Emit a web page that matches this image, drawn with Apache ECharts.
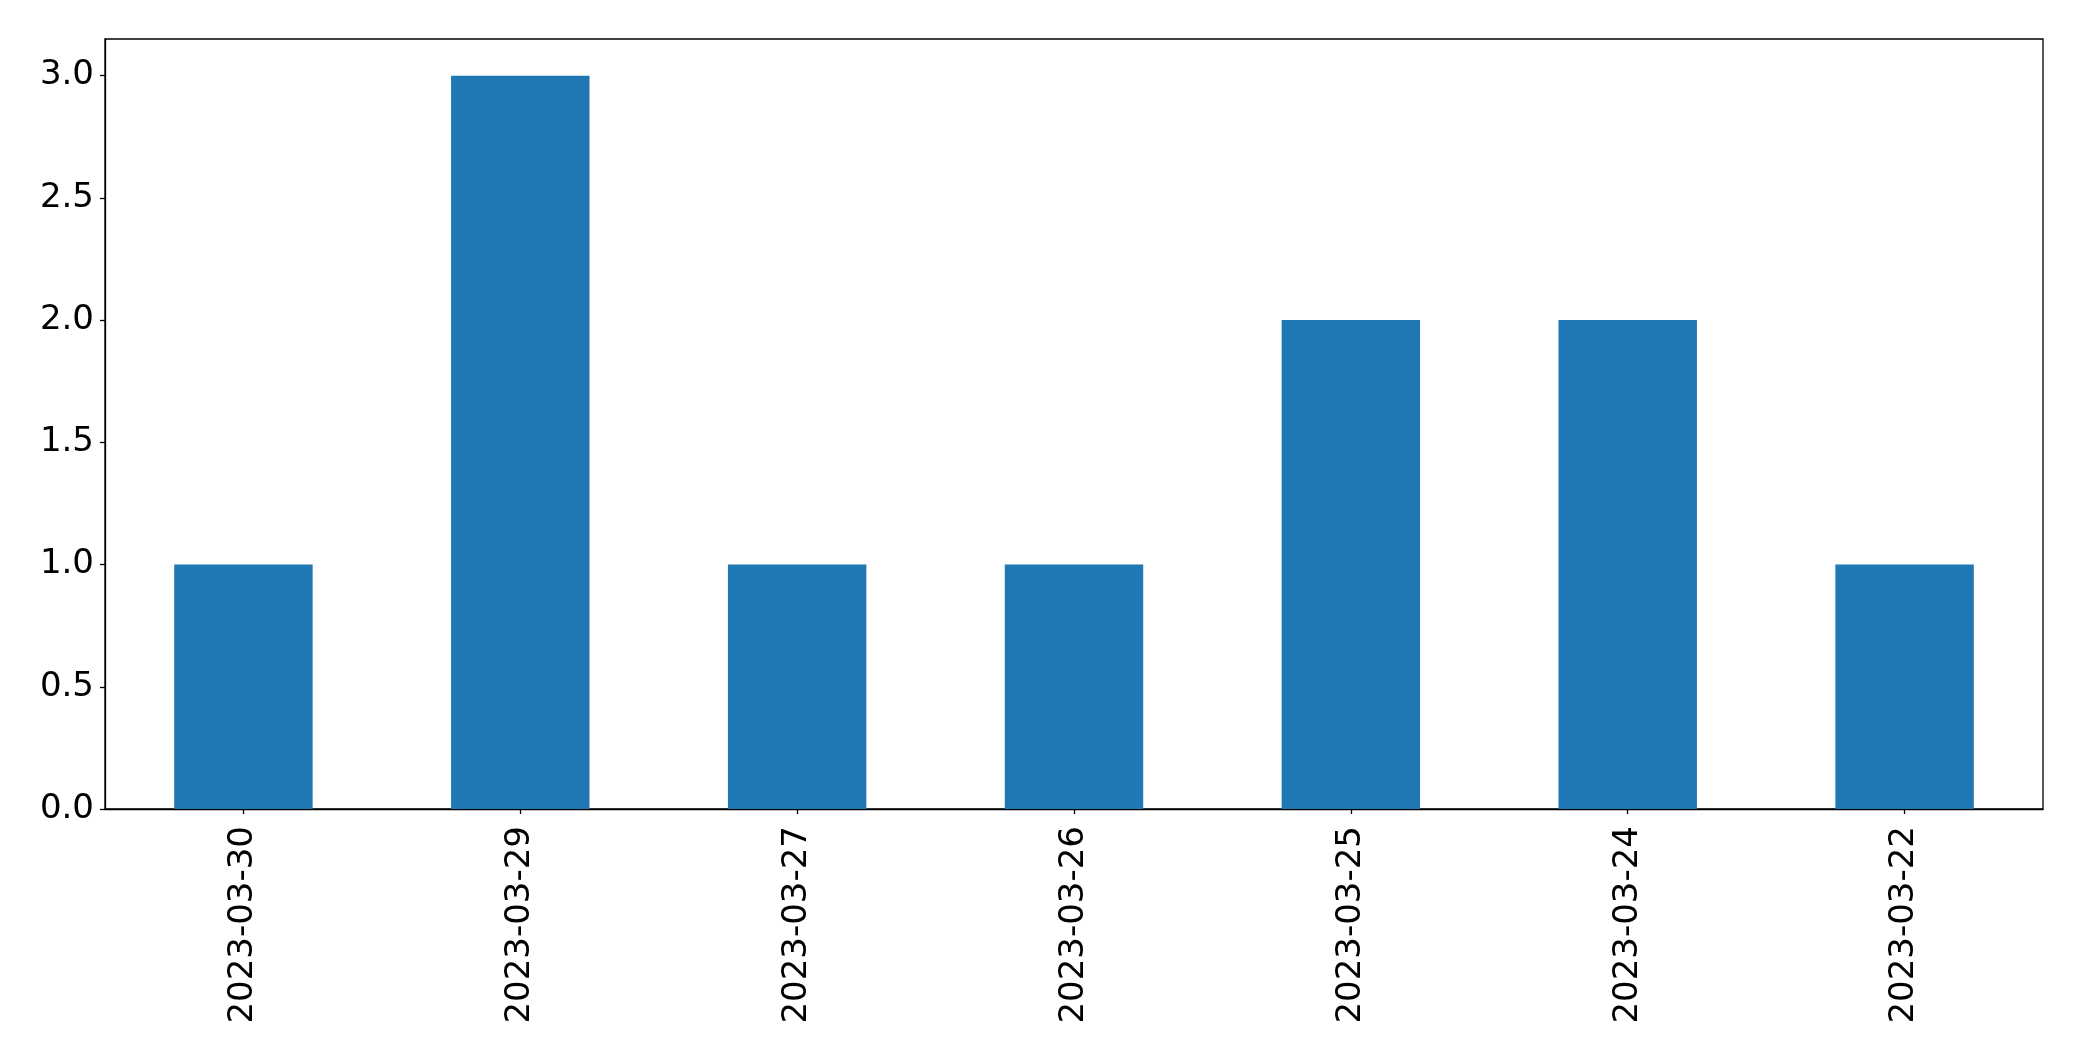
<!DOCTYPE html>
<html>
<head>
<meta charset="utf-8">
<script src="https://cdn.jsdelivr.net/npm/echarts@6/dist/echarts.min.js"></script>
<style>html,body{margin:0;padding:0;background:#fff;}#chart{width:2082px;height:1061px;}</style>
</head>
<body>
<div id="chart"></div>
<script>
const categories = ['2023-03-30','2023-03-29','2023-03-27','2023-03-26','2023-03-25','2023-03-24','2023-03-22'];
const values = [1, 3, 1, 1, 2, 2, 1];
const yTicks = [0, 0.5, 1.0, 1.5, 2.0, 2.5, 3.0];

const chart = echarts.init(document.getElementById('chart'));
const font = 'DejaVu Sans';
chart.setOption({
  animation: false,
  backgroundColor: '#fff',
  grid: {left: 105, right: 39, top: 39, bottom: 252, show: true, borderColor: '#000', borderWidth: 1.3, containLabel: false},
  xAxis: {
    type: 'category', data: categories,
    axisLine: {show: true, lineStyle: {color: '#000', width: 1.3}},
    axisTick: {show: true, alignWithLabel: true, length: 5, lineStyle: {color: '#000', width: 1.3}},
    axisLabel: {rotate: 90, margin: 17, color: '#000', fontSize: 34, fontFamily: font},
    splitLine: {show: false}
  },
  yAxis: {
    type: 'value', min: 0, max: 3.15, interval: 0.5,
    axisLine: {show: true, lineStyle: {color: '#000', width: 1.3}},
    axisTick: {show: true, length: 5, lineStyle: {color: '#000', width: 1.3}},
    axisLabel: {margin: 11, color: '#000', fontSize: 34, fontFamily: font, showMaxLabel: false,
      padding: [6, 0, 0, 0],
      formatter: v => yTicks.some(t => Math.abs(t - v) < 1e-9) ? v.toFixed(1) : ''},
    splitLine: {show: false}
  },
  series: [{
    type: 'bar', data: values, barWidth: '50%',
    itemStyle: {color: '#1f77b4'}
  }]
});
</script>
</body>
</html>
